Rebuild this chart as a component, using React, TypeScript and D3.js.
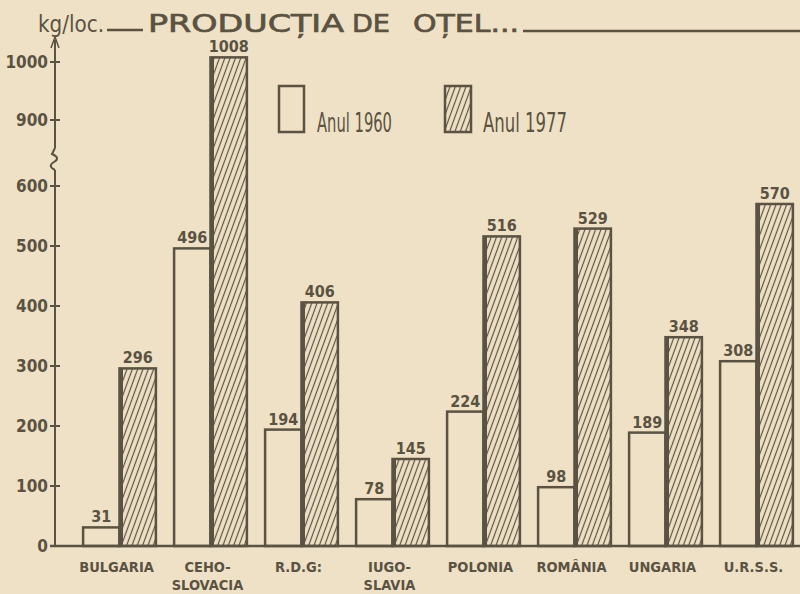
import React from 'react';
import * as d3 from 'd3';

const countries = ['BULGARIA', 'CEHOSLOVACIA', 'RDG', 'IUGOSLAVIA', 'POLONIA', 'ROMANIA', 'UNGARIA', 'URSS'];
const countryLabels = [
  ['BULGARIA'],
  ['CEHO-', 'SLOVACIA'],
  ['R.D.G:'],
  ['IUGO-', 'SLAVIA'],
  ['POLONIA'],
  ['ROMÂNIA'],
  ['UNGARIA'],
  ['U.R.S.S.'],
];
const years = ['1960', '1977'];
const values1960 = [31, 496, 194, 78, 224, 98, 189, 308];
const values1977 = [296, 1008, 406, 145, 516, 529, 348, 570];
const yTicks = [0, 100, 200, 300, 400, 500, 600, 900, 1000];

const INK = '#5a5242';
const PAPER = '#efe1c5';
const NARROW = '"Liberation Sans Narrow", "DejaVu Sans Condensed", "Roboto Condensed", sans-serif';
const WIDE = '"DejaVu Sans", sans-serif';

const App = () => {
  const width = 800;
  const height = 594;
  const axisX = 55;

  // broken axis: 600 -> 900 squeezed
  const y = d3.scaleLinear().domain([0, 600, 900, 1000]).range([546, 186, 120, 62]);
  const x = d3.scaleBand().domain(countries).range([74, 802]).paddingInner(0.2).paddingOuter(0.1);
  const xi = d3.scaleBand().domain(years).range([0, x.bandwidth()]);

  const series = [values1960, values1977];

  return (
    <svg
      width={width}
      height={height}
      style={{ position: 'absolute', top: 0, left: 0, background: PAPER }}
    >
      <defs>
        <pattern id="hatch" width="5" height="5" patternUnits="userSpaceOnUse" patternTransform="rotate(20)">
          <rect width="5" height="5" fill={PAPER} />
          <line x1="2.5" y1="0" x2="2.5" y2="5" stroke={INK} strokeWidth="1.2" />
        </pattern>
      </defs>
      <rect width={width} height={height} fill={PAPER} />

      {/* title */}
      <text x={38} y={32} fill={INK} fontFamily={NARROW} fontSize={23} textLength={66} lengthAdjust="spacingAndGlyphs">
        kg/loc.
      </text>
      <line x1={107} x2={143} y1={30} y2={30} stroke={INK} strokeWidth={2.5} />
      <g fill={INK} stroke={INK} strokeWidth={0.7} fontFamily={WIDE} fontSize={25}>
        <text x={148} y={32} textLength={196} lengthAdjust="spacingAndGlyphs">
          PRODUCȚIA
        </text>
        <text x={352} y={32} textLength={38} lengthAdjust="spacingAndGlyphs">
          DE
        </text>
        <text x={413} y={32} textLength={106} lengthAdjust="spacingAndGlyphs">
          OȚEL...
        </text>
      </g>
      <line x1={523} x2={800} y1={31} y2={31} stroke={INK} strokeWidth={2.5} />

      {/* legend */}
      <rect x={279} y={86} width={25} height={46} fill={PAPER} stroke={INK} strokeWidth={2.5} />
      <text x={317} y={132} fill={INK} fontFamily={NARROW} fontSize={26} textLength={75} lengthAdjust="spacingAndGlyphs">
        Anul 1960
      </text>
      <rect x={445} y={86} width={26} height={46} fill="url(#hatch)" stroke={INK} strokeWidth={2.5} />
      <text x={483} y={132} fill={INK} fontFamily={NARROW} fontSize={26} textLength={84} lengthAdjust="spacingAndGlyphs">
        Anul 1977
      </text>

      {/* bars */}
      {countries.map((c, i) => (
        <g key={c} transform={`translate(${x(c)},0)`}>
          {years.map((yr, k) => {
            const v = series[k][i];
            const bx = xi(yr) as number;
            const bw = xi.bandwidth();
            return (
              <g key={yr}>
                <rect
                  x={bx}
                  y={y(v)}
                  width={bw}
                  height={y(0) - y(v)}
                  fill={k === 0 ? PAPER : 'url(#hatch)'}
                  stroke={INK}
                  strokeWidth={2.5}
                />
                {k === 1 && (
                  <line x1={bx + 1.5} x2={bx + 1.5} y1={y(v)} y2={y(0)} stroke={INK} strokeWidth={4} />
                )}
                <text
                  x={bx + bw / 2}
                  y={y(v) - 5}
                  textAnchor="middle"
                  fill={INK}
                  fontFamily={NARROW}
                  fontSize={16}
                  fontWeight="bold"
                >
                  {v}
                </text>
              </g>
            );
          })}
          <text
            x={x.bandwidth() / 2 - 3}
            y={572}
            textAnchor="middle"
            fill={INK}
            fontFamily={NARROW}
            fontSize={14.5}
            fontWeight="bold"
          >
            {countryLabels[i].map((t, j) => (
              <tspan key={j} x={x.bandwidth() / 2 - 3} dy={j === 0 ? 0 : 18}>
                {t}
              </tspan>
            ))}
          </text>
        </g>
      ))}

      {/* baseline */}
      <line x1={50} x2={800} y1={y(0)} y2={y(0)} stroke={INK} strokeWidth={2.5} />

      {/* y axis with break */}
      <line x1={axisX} x2={axisX} y1={y(0)} y2={170} stroke={INK} strokeWidth={2} />
      <path
        d={`M${axisX},170 q-8,-4 -1,-8 q7,-4 -2,-8 L${axisX},148`}
        fill="none"
        stroke={INK}
        strokeWidth={2}
      />
      <line x1={axisX} x2={axisX} y1={148} y2={40} stroke={INK} strokeWidth={2} />
      <path d={`M${axisX - 4},48 L${axisX},37 L${axisX + 4},48`} fill="none" stroke={INK} strokeWidth={1.5} />
      {yTicks.map((t) => (
        <g key={t}>
          <line x1={axisX - 5} x2={axisX + 5} y1={y(t)} y2={y(t)} stroke={INK} strokeWidth={2} />
          <text
            x={axisX - 7}
            y={y(t) + 6}
            textAnchor="end"
            fill={INK}
            fontFamily={NARROW}
            fontSize={17}
            fontWeight="bold"
          >
            {t}
          </text>
        </g>
      ))}
    </svg>
  );
};

export default App;
